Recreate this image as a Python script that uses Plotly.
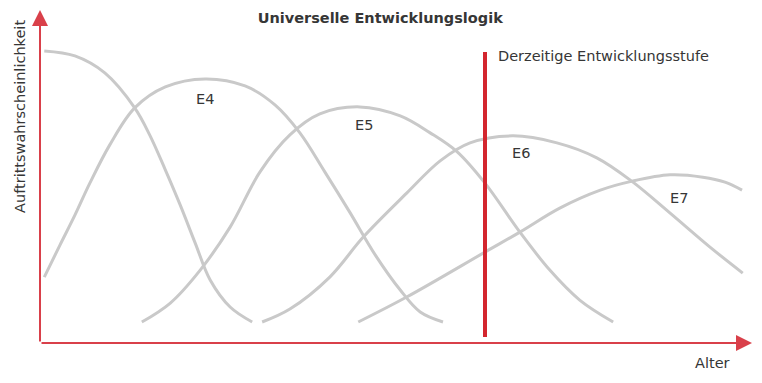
import plotly.graph_objects as go

# Curves: age (x) vs. probability of occurrence (y)
e3_x = [0.6, 4.9, 9.1, 13.3, 15.4, 17.6, 19.7, 21.8, 23.9, 26.7, 29.8]
e3_y = [87.7, 86.2, 81.1, 70.6, 62.5, 52.0, 41.4, 30.0, 18.9, 10.8, 6.3]

e4_x = [0.6, 2.8, 4.9, 7.0, 9.8, 13.3, 17.6, 23.2, 28.8, 33.0, 36.5, 40.0, 43.5, 47.1, 50.6, 53.4, 56.6]
e4_y = [19.8, 29.4, 38.4, 48.0, 59.5, 70.6, 76.9, 79.3, 77.2, 71.5, 63.1, 51.4, 39.3, 26.4, 15.9, 9.3, 6.3]

e5_x = [14.3, 18.3, 22.5, 26.7, 30.9, 35.1, 39.3, 44.9, 50.6, 54.8, 58.6, 62.5, 67.4, 71.6, 75.8, 80.5]
e5_y = [6.3, 12.0, 21.9, 34.8, 51.4, 62.5, 68.8, 70.9, 68.2, 63.1, 57.4, 48.0, 33.3, 21.9, 12.9, 6.3]

e6_x = [31.2, 35.1, 40.7, 45.4, 51.5, 56.2, 60.4, 66.4, 72.6, 78.2, 83.1, 88.5, 94.1, 98.7]
e6_y = [6.3, 10.2, 19.8, 31.8, 45.0, 54.7, 60.1, 62.2, 60.1, 55.6, 48.6, 39.0, 28.8, 21.0]

e7_x = [44.7, 51.5, 62.5, 67.4, 73.0, 78.7, 83.2, 88.5, 93.1, 96.2, 98.6]
e7_y = [6.3, 13.8, 27.3, 33.3, 40.5, 45.9, 48.6, 50.5, 49.8, 48.3, 45.9]

curves = [(e3_x, e3_y), (e4_x, e4_y), (e5_x, e5_y), (e6_x, e6_y), (e7_x, e7_y)]

labels = ["E4", "E5", "E6", "E7"]
label_x = [23.2, 45.5, 67.6, 89.7]
label_y = [73.3, 65.5, 57.1, 43.5]

current_age = 62.5
current_range = [1.8, 87.4]

title = "Universelle Entwicklungslogik"
current_label = "Derzeitige Entwicklungsstufe"
x_title = "Alter"
y_title = "Auftrittswahrscheinlichkeit"

FONT = "DejaVu Sans"
FS = 14.5
GREY = "#c9c9c9"
RED = "#d3262e"
AXRED = "#d9404a"
TXT = "#363636"

fig = go.Figure()
for cx, cy in curves:
    fig.add_trace(go.Scatter(x=cx, y=cy, mode="lines",
                             line=dict(color=GREY, width=3, shape="spline", smoothing=1.0),
                             hoverinfo="skip", showlegend=False, cliponaxis=False))

fig.add_trace(go.Scatter(x=[current_age, current_age], y=current_range, mode="lines",
                         line=dict(color=RED, width=4), showlegend=False, hoverinfo="skip",
                         cliponaxis=False))

annotations = []
for t, lx, ly in zip(labels, label_x, label_y):
    annotations.append(dict(x=lx, y=ly, xref="x", yref="y", text=t, showarrow=False,
                            xanchor="center", yanchor="middle",
                            font=dict(family=FONT, size=FS, color=TXT)))

annotations.append(dict(x=current_age + 1.6, y=86.2, xref="x", yref="y", text=current_label,
                        showarrow=False, xanchor="left", yanchor="middle",
                        font=dict(family=FONT, size=FS, color=TXT)))
annotations.append(dict(x=0.945, y=-0.06, xref="paper", yref="paper", text=x_title,
                        showarrow=False, xanchor="center", yanchor="middle",
                        font=dict(family=FONT, size=FS, color=TXT)))
annotations.append(dict(x=-0.028, y=0.679, xref="paper", yref="paper", text=y_title,
                        showarrow=False, textangle=-90, xanchor="center", yanchor="middle",
                        font=dict(family=FONT, size=FS, color=TXT)))

# axis arrows
annotations.append(dict(x=100, y=0, ax=0, ay=0, xref="x", yref="y", axref="x", ayref="y",
                        text="", showarrow=True, arrowhead=2, arrowsize=1.6, arrowwidth=2,
                        arrowcolor=AXRED, standoff=0))
annotations.append(dict(x=0, y=100, ax=0, ay=0, xref="x", yref="y", axref="x", ayref="y",
                        text="", showarrow=True, arrowhead=2, arrowsize=1.6, arrowwidth=2,
                        arrowcolor=AXRED, standoff=0))

fig.update_layout(
    width=762, height=383,
    margin=dict(l=40, r=10, t=10, b=40),
    paper_bgcolor="white", plot_bgcolor="white",
    title=dict(text="<b>" + title + "</b>", x=0.499, xanchor="center", y=1 - 18 / 383,
               yanchor="middle", font=dict(family=FONT, size=FS, color=TXT)),
    xaxis=dict(range=[0, 100], visible=False, fixedrange=True),
    yaxis=dict(range=[0, 100], visible=False, fixedrange=True),
    annotations=annotations,
    showlegend=False,
)

fig.write_html("out.html", config={"displayModeBar": False})
